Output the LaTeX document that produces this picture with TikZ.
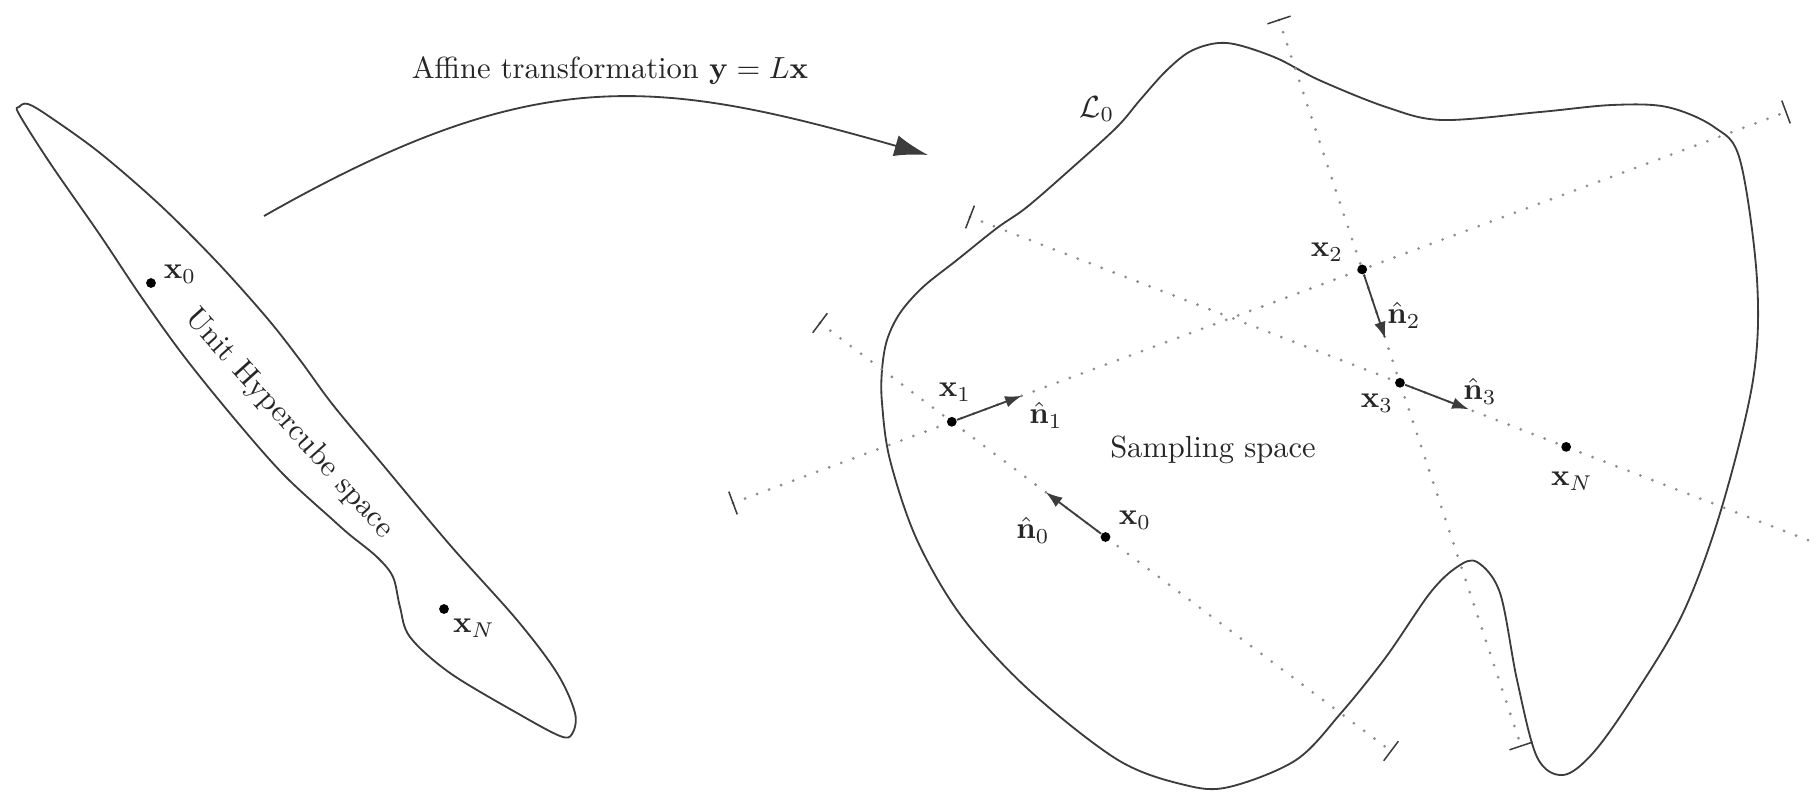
\documentclass[tikz,border=0pt]{standalone}
\usepackage{amsmath}
\usepackage{amssymb}
\usetikzlibrary{arrows.meta,calc,positioning}
\definecolor{ink}   {HTML}{3C3C3C}
\definecolor{guide} {HTML}{8E8E8E}
\tikzset{
  every node/.style={font=\normalsize},
  % --- shapes
  outline/.style  = {draw=ink, line width=0.6pt},
  guideline/.style= {draw=guide, line width=1pt, line cap=round, dash pattern=on 0pt off 4.2pt},
  tickmark/.style = {draw=ink, line width=0.5pt},
  % --- nodes
  pt/.style       = {circle, fill=black, inner sep=0pt, minimum size=3.2pt},
  lbl/.style      = {inner sep=1pt, text=black!85},
  % --- edges
  vec/.style      = {-{Latex[length=5.5pt,width=3.8pt]}, line width=0.6pt, draw=ink},
  bigarrow/.style = {-{Latex[length=11pt,width=7pt]}, line width=0.6pt, draw=ink},
}

\begin{document}
\begin{tikzpicture}[x=0.0115cm, y=-0.0115cm]
  \useasboundingbox (0,0) rectangle (1818,792);

  % unit hypercube space
  \draw[outline] plot[smooth cycle, tension=0.55] coordinates {
    (19,107) (28,104) (50,117) (100,153) (160,205) (217,262) (267,318)
    (300,360) (333,405) (383,465) (450,545) (517,620) (557,673)
    (575,713) (572,734) (560,736) (517,713) (450,673) (410,637)
    (400,607) (393,577) (377,557) (350,535) (333,520) (283,474)
    (233,417) (183,355) (140,295) (100,235) (50,163) (19,114)};
  \node[lbl, rotate=-48] (cube) at (289,424) {Unit Hypercube space};
  \node[pt] (u0) at (151,283) {};
  \node[pt] (uN) at (444,609) {};
  \node[lbl] (lu0) at (180,274) {$\mathbf{x}_0$};
  \node[lbl] (luN) at (474,628) {$\mathbf{x}_N$};

  % the mapping
  \node[lbl] (affine) at (610,71) {Affine transformation $\mathbf{y} = L\mathbf{x}$};
  \coordinate (m0) at (264,216);
  \coordinate (m1) at (928,155);
  \draw[bigarrow] (m0) .. controls (535,62) and (654,77) .. (m1);

  % sampling space
  \draw[outline] plot[smooth cycle, tension=0.55] coordinates {
    (882,403) (882,370) (887,340) (900,313) (923,287) (957,260)
    (997,228) (1027,207) (1073,167) (1117,127) (1140,100) (1167,70)
    (1193,50) (1227,43) (1274,57) (1319,80) (1386,107)
    (1442,120) (1540,112) (1612,105) (1667,107) (1714,127) (1740,160)
    (1757,280) (1753,380) (1721,510) (1683,613) (1633,697) (1593,753)
    (1563,775) (1537,757) (1517,680) (1500,593) (1477,562) (1457,567)
    (1430,593) (1386,657) (1341,713) (1296,760) (1229,787) (1185,785)
    (1118,760) (1029,690) (962,617) (917,540) (890,460)};
  \node[lbl] (L0) at (1097,109) {$\mathcal{L}_0$};
  \node[lbl] (samp) at (1213,450) {Sampling space};

  % search directions
  \coordinate (a1) at (820,323);  \coordinate (a2) at (1391,751);
  \coordinate (b1) at (733,503);  \coordinate (b2) at (1786,112);
  \coordinate (c1) at (1279,20);  \coordinate (c2) at (1521,746);
  \coordinate (d1) at (970,217);  \coordinate (d2) at (1818,544);
  \foreach \s/\e in {a1/a2,b1/b2,c1/c2,d1/d2}
    \draw[guideline] (\s) -- (\e);
  \foreach \s/\e in {a1/a2,a2/a1,b1/b2,b2/b1,c1/c2,c2/c1,d1/d2}
    \draw[tickmark] ($(\s)!0.14cm!90:(\e)$) -- ($(\s)!0.14cm!-90:(\e)$);

  \node[pt] (x0) at ($(a1)!0.5!(a2)$) {};
  \node[pt] (x1) at (intersection of a1--a2 and b1--b2) {};
  \node[pt] (x2) at (intersection of b1--b2 and c1--c2) {};
  \node[pt] (x3) at (intersection of c1--c2 and d1--d2) {};
  \node[pt] (xN) at ($(d1)!0.703!(d2)$) {};

  \coordinate (t0) at ($(x0)!0.86cm!(a1)$);
  \coordinate (t1) at ($(x1)!0.86cm!(b2)$);
  \coordinate (t2) at ($(x2)!0.84cm!(c2)$);
  \coordinate (t3) at ($(x3)!0.85cm!(d2)$);
  \foreach \i in {0,...,3}
    \draw[vec] (x\i) -- (t\i);

  \node[lbl] (lx0) at (1135,520) {$\mathbf{x}_0$};
  \node[lbl] (ln0) at (1033,530) {$\hat{\mathbf{n}}_0$};
  \node[lbl] (lx1) at (955,392) {$\mathbf{x}_1$};
  \node[lbl] (ln1) at (1046,415) {$\hat{\mathbf{n}}_1$};
  \node[lbl] (lx2) at (1327,252) {$\mathbf{x}_2$};
  \node[lbl] (ln2) at (1404,315) {$\hat{\mathbf{n}}_2$};
  \node[lbl] (lx3) at (1377,403) {$\mathbf{x}_3$};
  \node[lbl] (ln3) at (1480,391) {$\hat{\mathbf{n}}_3$};
  \node[lbl] (lxN) at (1572,481) {$\mathbf{x}_N$};
\end{tikzpicture}
\end{document}
